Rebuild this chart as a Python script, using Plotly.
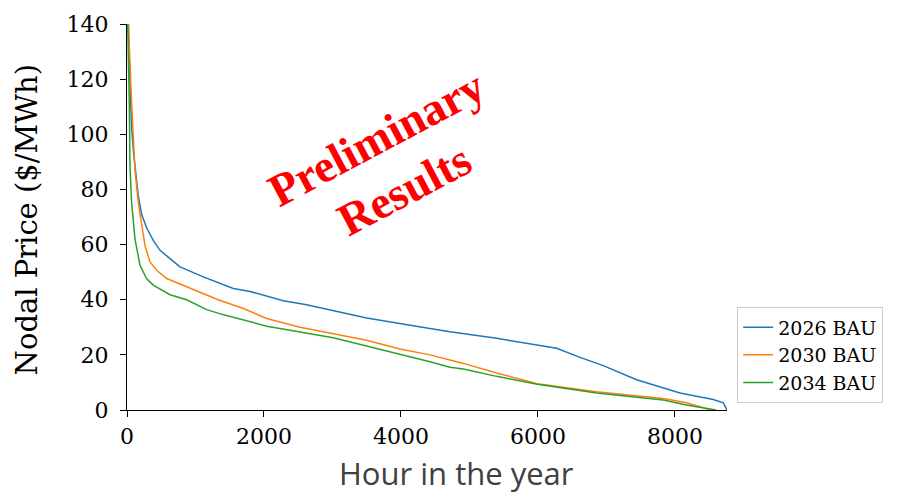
import plotly.graph_objects as go

# Hour-of-year price duration curves ($/MWh)
hours_2026 = [0, 20, 44, 68, 97, 165, 213, 285, 383, 482, 628, 774, 1114, 1552, 1796, 2040, 2282, 2623,
              3255, 3499, 4423, 4715, 5397, 6273, 6613, 6953, 7440, 8073, 8560, 8706, 8760]
price_2026 = [200, 140, 119, 102, 93, 77.6, 71.0, 66.2, 61.5, 57.9, 54.9, 51.9, 48.3, 44.1, 43.0, 41.2, 39.6, 38.2,
              34.8, 33.4, 29.6, 28.4, 26.0, 22.4, 19.1, 16.1, 11.0, 6.2, 3.8, 2.6, 0.0]

hours_2030 = [0, 20, 68, 117, 165, 213, 263, 336, 433, 579, 871, 1330, 1698, 2040, 2526, 3499, 3985, 4423,
              4715, 4910, 5397, 5990, 6856, 7830, 8170, 8462, 8520]
price_2030 = [200, 140, 111, 87, 75.2, 66.8, 59.6, 53.7, 50.7, 47.7, 44.8, 40.0, 36.8, 33.2, 30.0, 25.3, 22.1, 20.0,
              18.1, 16.9, 13.4, 9.5, 6.6, 4.2, 2.6, 0.6, 0.0]

hours_2034 = [0, 10, 34, 44, 68, 117, 190, 285, 383, 628, 871, 1163, 1400, 2040, 3012, 3985, 4423, 4715,
              4910, 5397, 5990, 6856, 7830, 8170, 8462, 8600]
price_2034 = [200, 140, 111, 88, 75, 62, 52.5, 47.7, 45.3, 41.8, 40.0, 36.4, 34.6, 30.4, 26.2, 20.3, 17.5, 15.5,
              14.9, 12.2, 9.3, 6.2, 3.6, 1.8, 0.6, 0.0]

series_names = ["2026 BAU", "2030 BAU", "2034 BAU"]
series_colors = ["#1f77b4", "#ff7f0e", "#2ca02c"]
x_ticks = [0, 2000, 4000, 6000, 8000]
y_ticks = [0, 20, 40, 60, 80, 100, 120, 140]

fig = go.Figure()
for hx, py, name, col in zip([hours_2026, hours_2030, hours_2034],
                             [price_2026, price_2030, price_2034],
                             series_names, series_colors):
    fig.add_trace(go.Scatter(x=hx, y=py, mode="lines", name=name,
                             line=dict(color=col, width=1.5)))

serif = "DejaVu Serif"
fig.update_layout(
    width=906, height=496,
    margin=dict(l=127, r=179, t=19, b=86),
    plot_bgcolor="white", paper_bgcolor="white",
    showlegend=True,
    legend=dict(x=1.017, y=0.266, xanchor="left", yanchor="top",
                font=dict(family=serif, size=19, color="black"),
                bordercolor="#cccccc", borderwidth=1, bgcolor="white",
                tracegroupgap=0),
    xaxis=dict(range=[0, 8760], tickvals=x_ticks, showgrid=False, zeroline=False,
               showline=True, linecolor="black", linewidth=1.2,
               ticks="outside", ticklen=6, tickcolor="black",
               tickfont=dict(family=serif, size=22, color="black")),
    yaxis=dict(range=[0, 140], tickvals=y_ticks, showgrid=False, zeroline=False,
               showline=True, linecolor="black", linewidth=1.2,
               ticks="outside", ticklen=6, tickcolor="black", ticklabelstandoff=7,
               tickfont=dict(family=serif, size=22, color="black")),
)

fig.add_annotation(text="Nodal Price ($/MWh)", xref="paper", yref="paper",
                   x=(27 - 127) / 600, y=(410 - 218) / 391, xanchor="center", yanchor="middle",
                   textangle=-90, showarrow=False,
                   font=dict(family=serif, size=29, color="black"))

fig.add_annotation(text="Hour in the year", xref="paper", yref="paper",
                   x=(456 - 127) / 600, y=(410 - 474) / 391, xanchor="center", yanchor="middle",
                   showarrow=False, font=dict(family="Open Sans", size=31, color="#404040"))

fig.add_annotation(text="<b>Preliminary</b>", x=3640, y=98.5, xref="x", yref="y",
                   showarrow=False, textangle=-28,
                   font=dict(family="Liberation Serif", size=46, color="red"))
fig.add_annotation(text="<b>Results</b>", x=4058, y=79.8, xref="x", yref="y",
                   showarrow=False, textangle=-28,
                   font=dict(family="Liberation Serif", size=46, color="red"))

fig.write_html("out.html")
